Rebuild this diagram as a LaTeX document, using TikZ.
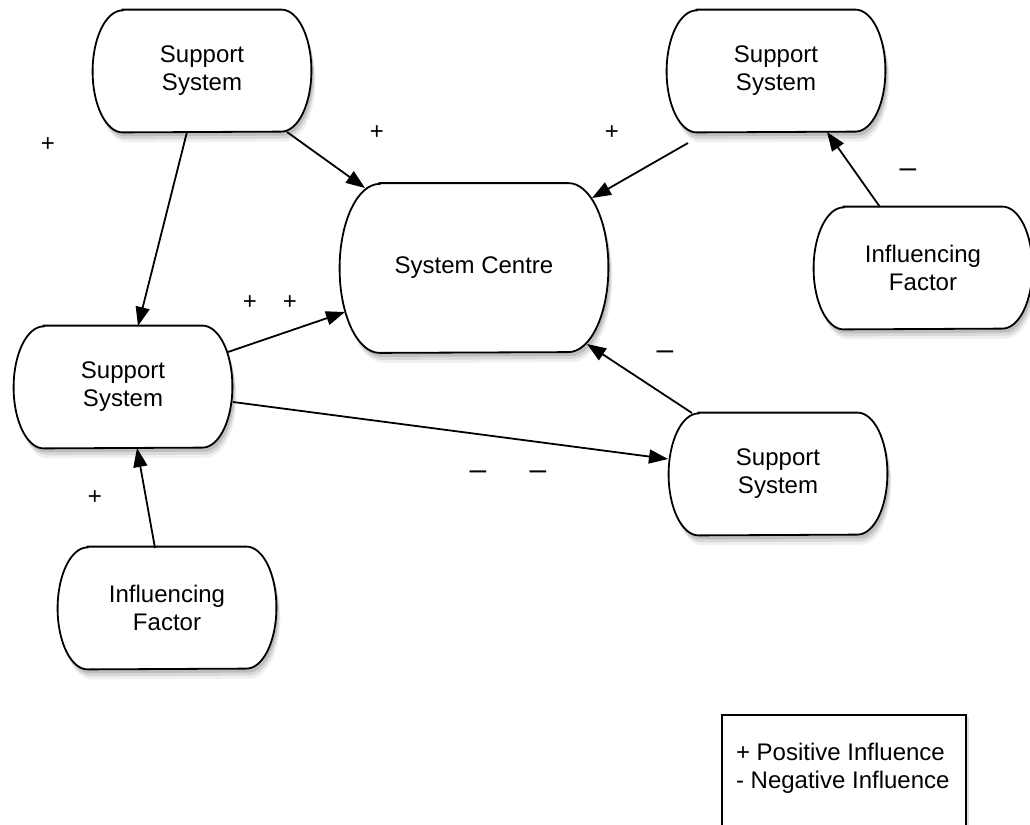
\documentclass[tikz,border=0pt]{standalone}
\usepackage{fontspec}
\setmainfont{Liberation Sans}
\usetikzlibrary{shadows,arrows.meta,backgrounds}

\begin{document}
\begin{tikzpicture}[x=0.5pt,y=-0.5pt,font=\fontsize{12}{14}\selectfont,
    every node/.style={align=center},
    factor/.style={rectangle,minimum width=109pt,minimum height=61pt,inner sep=2pt},
    outline/.style={draw,line width=0.9pt,fill=white,
        drop shadow={shadow xshift=2pt,shadow yshift=-5pt,opacity=0.12},
        drop shadow={shadow xshift=1.5pt,shadow yshift=-3.5pt,opacity=0.2},
        drop shadow={shadow xshift=1pt,shadow yshift=-2pt,opacity=0.3}},
    sign/.style={inner sep=0pt},
    minus/.style={inner sep=0pt,font=\fontsize{15}{16}\selectfont},
    flow/.style={line width=0.9pt,-{Triangle[length=9.5pt,width=7pt]}}]
    \useasboundingbox (0,0) rectangle (1030,825);

    \node[factor,minimum width=134pt,minimum height=84.5pt] (Centre) at (474,268) {System Centre};
    \node[factor] (SupportA) at (202,71) {Support\\System};
    \node[factor] (SupportB) at (776,71) {Support\\System};
    \node[factor] (SupportC) at (123,387) {Support\\System};
    \node[factor] (SupportD) at (778,474) {Support\\System};
    \node[factor] (FactorA) at (923,268) {Influencing\\Factor};
    \node[factor] (FactorB) at (167,608) {Influencing\\Factor};

    % rounded sides, behind the text
    \begin{scope}[on background layer]
       \foreach \n/\rx/\ry in {Centre/20pt/42.25pt,SupportA/15pt/30.5pt,SupportB/15pt/30.5pt,SupportC/15pt/30.5pt,SupportD/15pt/30.5pt,FactorA/15pt/30.5pt,FactorB/15pt/30.5pt}
          \draw[outline] ([xshift=\rx]\n.north west) -- ([xshift=-\rx]\n.north east)
             arc[start angle=90,end angle=-90,x radius=\rx,y radius=\ry]
             -- ([xshift=\rx]\n.south west)
             arc[start angle=270,end angle=90,x radius=\rx,y radius=\ry] -- cycle;
    \end{scope}

    % signs
    \node[sign] (pA) at (48,145) {+};
    \node[sign] (pB) at (377,133) {+};
    \node[sign] (pC) at (612,133) {+};
    \node[sign] (pD) at (250,303) {+};
    \node[sign] (pE) at (290,303) {+};
    \node[sign] (pF) at (95,498) {+};
    \node[minus] (mA) at (908,173) {\textendash};
    \node[minus] (mB) at (665,355) {\textendash};
    \node[minus] (mC) at (478,475) {\textendash};
    \node[minus] (mD) at (538,475) {\textendash};

    % legend
    \begin{scope}
       \clip (0,0) rectangle (1030,825);
       \draw[line width=0.9pt,fill=white,drop shadow={shadow xshift=1.5pt,shadow yshift=-1pt,opacity=0.25}]
           (722,715) rectangle (966,850);
    \end{scope}
    \node[anchor=west,align=left] (Legend) at (729,768) {+ Positive Influence\\- Negative Influence};

    \begin{scope}[every path/.style={flow}]
       \draw ([shift={(85,61)}]SupportA.center) -- ([shift={(-109,-80)}]Centre.center);
       \draw ([shift={(-15,61)}]SupportA.center) -- ([shift={(15,-61)}]SupportC.center);
       \draw ([shift={(105,-35)}]SupportC.center) -- ([shift={(-129,44)}]Centre.center);
       \draw ([shift={(110,15)}]SupportC.center) -- ([shift={(-110,-15)}]SupportD.center);
       \draw ([shift={(-88,72)}]SupportB.center) -- ([shift={(118,-70)}]Centre.center);
       \draw ([shift={(-43,-61)}]FactorA.center) -- ([shift={(51,61)}]SupportB.center);
       \draw ([shift={(-86,-61)}]SupportD.center) -- ([shift={(113,76)}]Centre.center);
       \draw ([shift={(-12,-60)}]FactorB.center) -- ([shift={(14,61)}]SupportC.center);
    \end{scope}
\end{tikzpicture}
\end{document}
